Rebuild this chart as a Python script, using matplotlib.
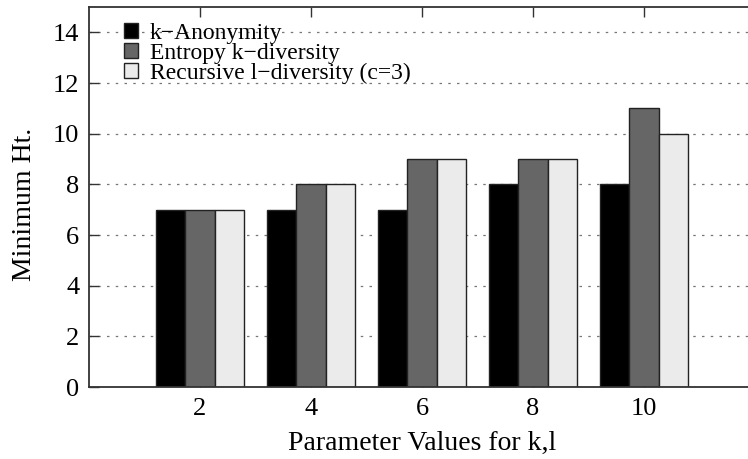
import numpy as np
import matplotlib
matplotlib.use('Agg')
import matplotlib.pyplot as plt

plt.rcParams['font.family'] = ['Liberation Serif', 'DejaVu Serif']
plt.rcParams['font.size'] = 19

# data
params = ['2', '4', '6', '8', '10']
series_names = ['k\u2212Anonymity', 'Entropy k\u2212diversity', 'Recursive l\u2212diversity (c=3)']
k_anon = [7, 7, 7, 8, 8]
entropy_div = [7, 8, 9, 9, 11]
recursive_div = [7, 8, 9, 9, 10]
colors = ['#000000', '#666666', '#ebebeb']

fig = plt.figure(figsize=(7.48, 4.59), dpi=100)
ax = fig.add_axes([89/748, 1 - 387/459, 666/748, 380/459])

x = np.arange(len(params))
w = 0.262
for i, (vals, name, c) in enumerate(zip([k_anon, entropy_div, recursive_div], series_names, colors)):
    ax.bar(x + (i - 1)*w, vals, width=w, color=c, edgecolor='#222222', linewidth=1.0, label=name)

ax.set_xlim(-1, 5)
ax.set_ylim(0, 15)
ax.set_xticks(x)
ax.set_xticklabels(params)
ax.set_yticks(np.arange(0, 15, 2))

ax.set_axisbelow(True)
ax.yaxis.grid(True, linestyle=(0, (2, 5)), color='#777777', linewidth=0.9)
ax.tick_params(axis='both', direction='in', length=7, width=1, color='#333333', pad=7)
ax.tick_params(axis='x', top=True, bottom=True, pad=8)
for s in ax.spines.values():
    s.set_linewidth(1.3)
    s.set_color('#333333')

ax.set_ylabel('Minimum Ht.', fontsize=20)
ax.yaxis.set_label_coords(-0.078, 0.48)
ax.set_xlabel('Parameter Values for k,l', labelpad=8, fontsize=20)

ax.legend(loc='upper left', bbox_to_anchor=(0.038, 0.982), frameon=False,
          handlelength=0.6, handleheight=0.6, handletextpad=0.5,
          labelspacing=-0.06, borderaxespad=0, fontsize=17)

fig.savefig('out.png', dpi=100)
